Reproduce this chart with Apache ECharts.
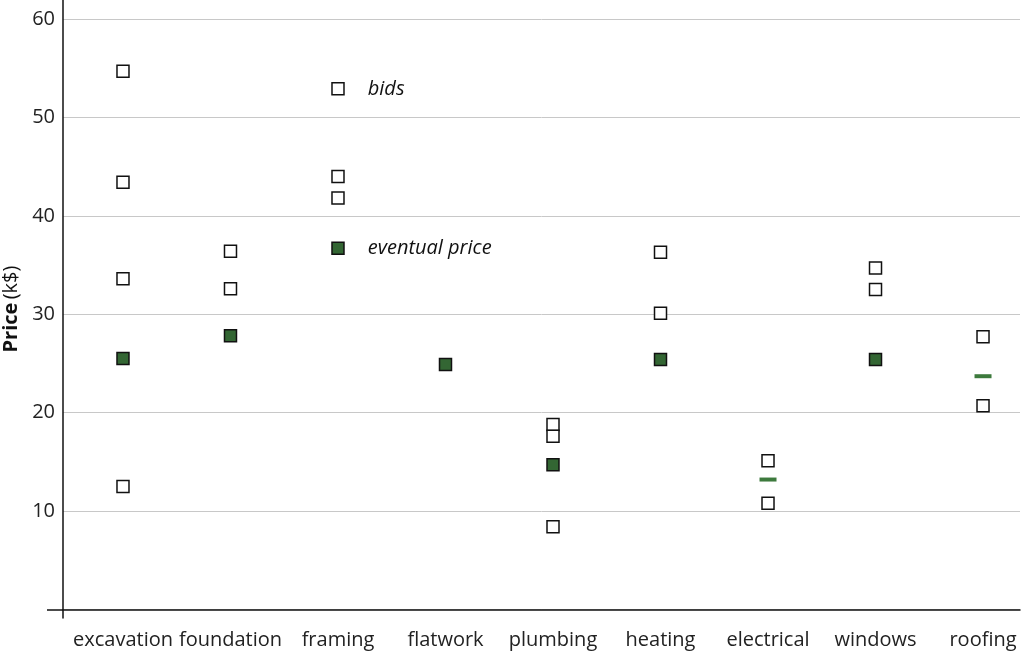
<!DOCTYPE html>
<html><head><meta charset="utf-8">
<script src="https://cdn.jsdelivr.net/npm/echarts@6/dist/echarts.min.js"></script>
<style>html,body{margin:0;padding:0;background:#fff}#c{width:1024px;height:652px}</style>
</head><body><div id="c"></div>
<script>
const categories = ['excavation','foundation','framing','flatwork','plumbing','heating','electrical','windows','roofing'];
const bids = [
  [54.7, 43.4, 33.6, 12.5],
  [36.4, 32.6],
  [52.9, 44.0, 41.8],
  [],
  [18.8, 17.6, 8.4],
  [36.3, 30.1],
  [15.1, 10.8],
  [34.7, 32.5],
  [27.7, 20.7]
];
const eventualPrice = [25.5, 27.8, 36.7, 24.9, 14.7, 25.4, null, 25.4, null];
const estimatedPrice = [null, null, null, null, null, null, 13.2, null, 23.7];
const yTicks = [10, 20, 30, 40, 50, 60];
const annotateCategory = 'framing';

const FONT = 'Open Sans';
const annIdx = categories.indexOf(annotateCategory);
const labelStyle = {show: true, position: 'right', distance: 23, fontFamily: FONT, fontStyle: 'italic', fontSize: 20, color: '#111'};

const bidData = [];
bids.forEach((arr, i) => arr.forEach((v, j) => {
  const item = {value: [i, v]};
  if (i === annIdx && j === 0) item.label = Object.assign({formatter: 'bids'}, labelStyle);
  bidData.push(item);
}));
const evData = [];
eventualPrice.forEach((v, i) => { if (v != null) {
  const item = {value: [i, v]};
  if (i === annIdx) item.label = Object.assign({formatter: 'eventual price'}, labelStyle);
  evData.push(item);
}});
const estData = [];
estimatedPrice.forEach((v, i) => { if (v != null) estData.push([i, v]); });

const chart = echarts.init(document.getElementById('c'), null, {renderer: 'canvas'});
chart.setOption({
  animation: false,
  grid: {left: 63, right: 4, top: 0, bottom: 34, containLabel: false, outerBoundsMode: 'none'},
  xAxis: {
    type: 'value', min: -0.558, max: 8.344,
    axisLine: {show: true, onZero: true, lineStyle: {color: '#111', width: 1.5}},
    axisTick: {show: false},
    splitLine: {show: false},
    axisLabel: {customValues: categories.map((c, i) => i), formatter: v => categories[Math.round(v)] || '',
      fontFamily: FONT, fontSize: 20, color: '#222', margin: 12}
  },
  yAxis: [{
    type: 'value', min: -0.87, max: 61.93, position: 'left',
    name: '{b|Price} {n|(k$)}', nameLocation: 'middle', nameGap: 41, nameRotate: 90,
    nameTextStyle: {rich: {b: {fontFamily: FONT, fontWeight: 'bold', fontSize: 20, color: '#111'}, n: {fontFamily: FONT, fontSize: 20, color: '#111'}}},
    axisLine: {show: true, onZero: false, lineStyle: {color: '#111', width: 1.5}},
    axisTick: {show: false, customValues: [0].concat(yTicks)},
    splitLine: {show: true, lineStyle: {color: '#c8c8c8', width: 1}},
    axisLabel: {customValues: yTicks, fontFamily: FONT, fontSize: 20, color: '#222', margin: 8}
  }, {
    type: 'value', min: -0.87, max: 61.93, position: 'left', offset: 0,
    axisLine: {show: false, onZero: false},
    axisTick: {show: true, customValues: [0], length: 16, lineStyle: {color: '#111', width: 1.5}},
    axisLabel: {show: false}, splitLine: {show: false}
  }],
  series: [{
    name: 'bids', type: 'scatter', symbol: 'rect', symbolSize: 12,
    itemStyle: {color: '#fff', borderColor: '#111', borderWidth: 1.5, opacity: 1},
    data: bidData, z: 3
  }, {
    name: 'eventual price', type: 'scatter', symbol: 'rect', symbolSize: 12,
    itemStyle: {color: '#336633', borderColor: '#111', borderWidth: 1.5, opacity: 1},
    data: evData, z: 4
  }, {
    name: 'estimate', type: 'scatter', symbol: 'rect', symbolSize: [17, 4],
    itemStyle: {color: '#3d7a3d', opacity: 1},
    data: estData, z: 4
  }]
});
</script></body></html>
